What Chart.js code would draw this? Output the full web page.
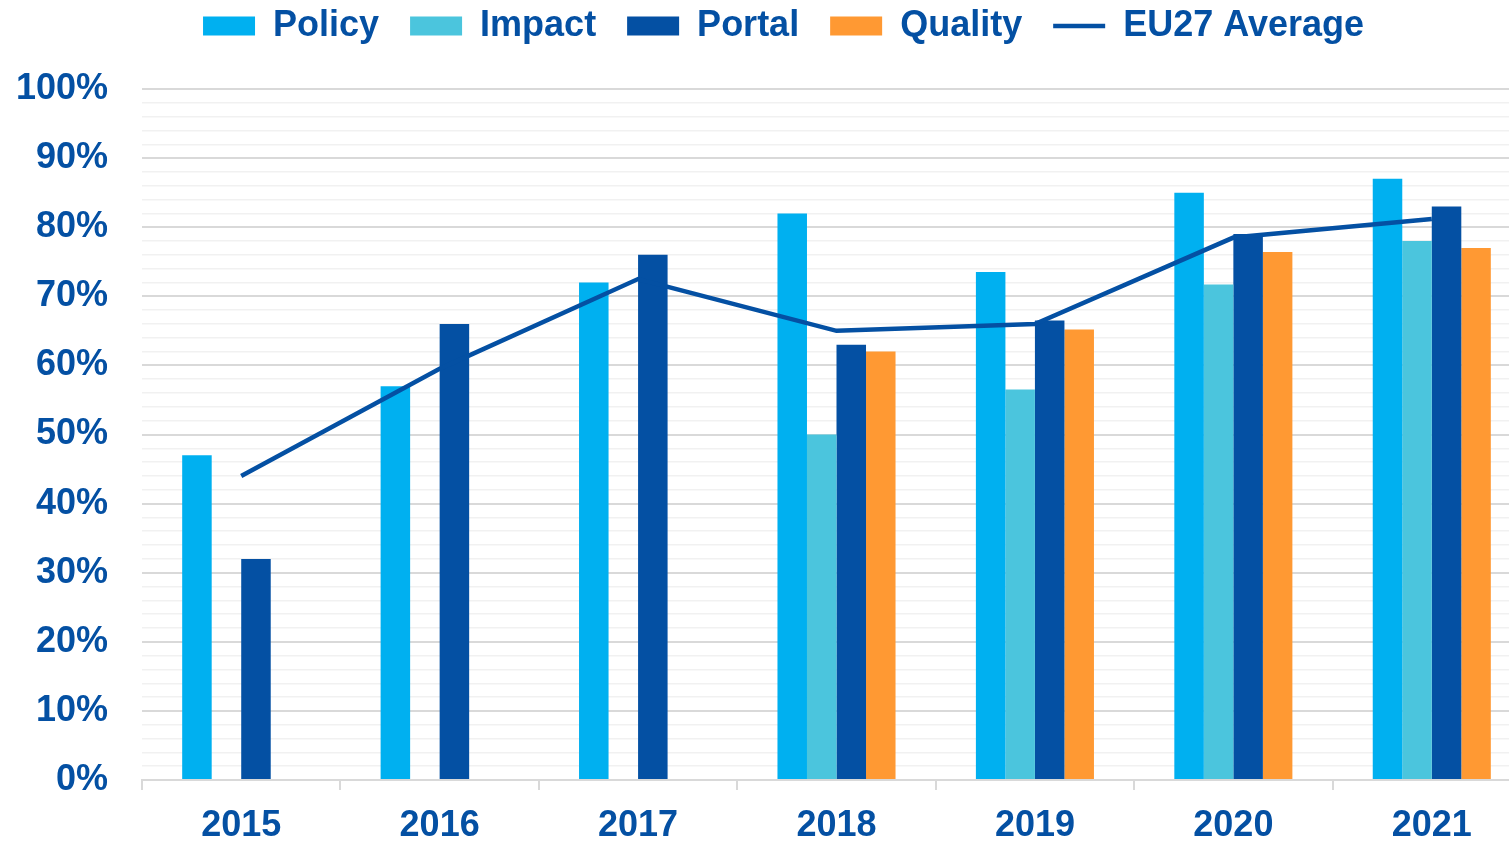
<!DOCTYPE html>
<html>
<head>
<meta charset="utf-8">
<script src="https://cdn.jsdelivr.net/npm/chart.js@4.4.1/dist/chart.umd.min.js"></script>
<style>
  html, body { margin: 0; padding: 0; background: #fff; overflow: hidden; }
  /* the original picture is cut on the right, so the canvas runs past the edge */
  #marco { width: 1509px; height: 841px; overflow: hidden; }
  #wrap { width: 1531px; height: 841px; position: relative; }
</style>
</head>
<body>
<div id="marco"><div id="wrap"><canvas id="grafico"></canvas></div></div>
<script>
// data
let anios = ['2015', '2016', '2017', '2018', '2019', '2020', '2021'];
let policy = [47, 57, 72, 82, 73.5, 85, 87];
let impact = [null, null, null, 50, 56.5, 71.7, 78];
let portal = [32, 66, 76, 63, 66.5, 79, 83];
let quality = [null, null, null, 62, 65.2, 76.4, 77];
let eu27 = [44, 59.5, 72.5, 65, 66, 78.5, 81.2];

let azul = '#0450a3';
let fuente = {family: 'Liberation Sans, Arial, sans-serif', size: 36, weight: 'bold'};

// moves the legend to where the reference has it
let moverLeyenda = {
    id: 'moverLeyenda',
    afterLayout(chart) {
        let lg = chart.legend;
        let dx = 10, dy = 35;
        lg.left += dx; lg.right += dx;
        lg.top -= dy; lg.bottom -= dy;
    }
};

let datos = {
    labels: anios,
    datasets: [
        {label: 'Policy', data: policy, backgroundColor: '#00b0f0', pointStyle: 'rect', borderWidth: 0, order: 1},
        {label: 'Impact', data: impact, backgroundColor: '#4bc5dd', pointStyle: 'rect', borderWidth: 0, order: 1},
        {label: 'Portal', data: portal, backgroundColor: azul, pointStyle: 'rect', borderWidth: 0, order: 1},
        {label: 'Quality', data: quality, backgroundColor: '#ff9933', pointStyle: 'rect', borderWidth: 0, order: 1},
        {
            type: 'line',
            label: 'EU27 Average',
            data: eu27,
            borderColor: azul,
            backgroundColor: azul,
            borderWidth: 4.5,
            tension: 0,
            pointRadius: 0,
            pointStyle: 'line',
            fill: false,
            order: 0
        }
    ]
};

let opciones = {
    responsive: true,
    maintainAspectRatio: false,
    animation: false,
    layout: {padding: {left: 16, right: 0, top: 12, bottom: 0}},
    datasets: {bar: {categoryPercentage: 0.595, barPercentage: 1}},
    scales: {
        x: {
            afterFit: s => { s.height = 61; },
            grid: {display: true, drawOnChartArea: false, drawTicks: true, tickLength: 10, color: '#d9d9d9', lineWidth: 2},
            border: {display: true, color: '#d9d9d9', width: 2},
            ticks: {color: azul, font: fuente, padding: 14}
        },
        y: {
            min: 0,
            max: 100,
            afterFit: s => { s.width = 126; },
            grid: {
                drawTicks: false,
                color: c => c.tick.value % 10 === 0 ? '#d9d9d9' : '#f1f1f1',
                lineWidth: c => c.tick.value % 10 === 0 ? 2 : 1.5
            },
            border: {display: false},
            ticks: {
                stepSize: 2,
                autoSkip: false,
                color: azul,
                font: fuente,
                padding: 34,
                callback: v => v % 10 === 0 ? v + '%' : ''
            }
        }
    },
    plugins: {
        legend: {
            position: 'top',
            labels: {
                usePointStyle: true,
                pointStyleWidth: 52,
                boxHeight: 19,
                padding: 31,
                color: azul,
                font: fuente,
                sort: (a, b) => a.datasetIndex - b.datasetIndex
            }
        },
        tooltip: {enabled: false}
    }
};

let ctx = document.getElementById('grafico');
let grafico = new Chart(ctx, {
    type: 'bar',
    data: datos,
    options: opciones,
    plugins: [moverLeyenda]
});
</script>
</body>
</html>
